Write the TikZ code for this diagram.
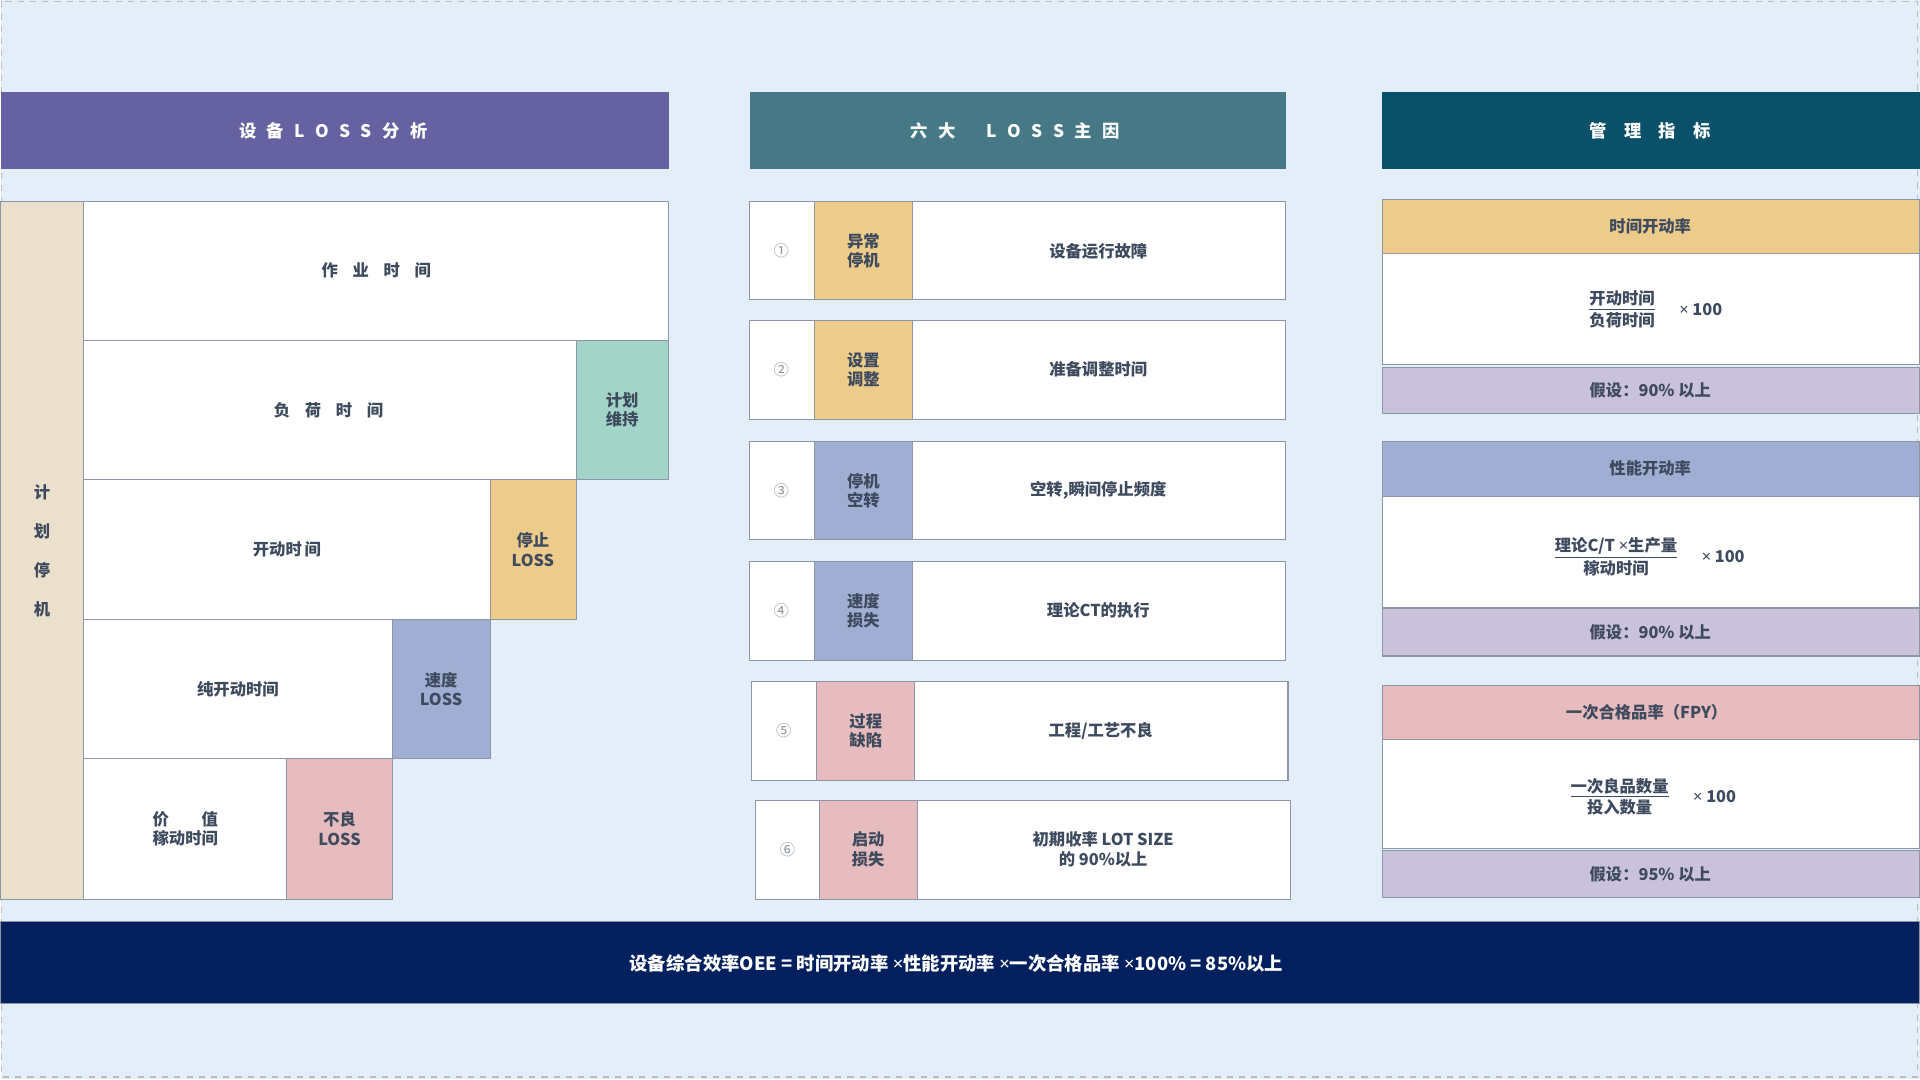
\documentclass[tikz,border=0pt]{standalone}
\usepackage{fontspec}
\setmainfont{Noto Sans CJK SC}
\newfontfamily\latinfont{Noto Sans}
\usetikzlibrary{positioning}

\definecolor{bgblue}{HTML}{E4EEF8}
\definecolor{ink}{HTML}{3E4A5E}
\definecolor{edge}{HTML}{8C96A6}
\definecolor{hpurple}{HTML}{6661A0}
\definecolor{hteal}{HTML}{477885}
\definecolor{hdark}{HTML}{0A5068}
\definecolor{beige}{HTML}{EAE0CB}
\definecolor{mint}{HTML}{A3D4C8}
\definecolor{gold}{HTML}{EDCB8A}
\definecolor{slate}{HTML}{A0AED3}
\definecolor{rose}{HTML}{E6BCBE}
\definecolor{lav}{HTML}{CAC1DA}
\definecolor{navy}{HTML}{02205E}
\definecolor{numgray}{HTML}{8A8F98}

\newcommand\gap{\hspace{0.6em}}
\newcommand\tms{{\latinfont ×}}

\tikzset{
  cell/.style={draw=edge, line width=0.5pt},
  lbl/.style={font=\bfseries\fontsize{8}{9.5}\selectfont, text=ink, align=center},
  head/.style={font=\bfseries\fontsize{8.5}{10}\selectfont, text=white},
  num/.style={font=\fontsize{7.5}{9}\selectfont, text=numgray},
}

\begin{document}
\begin{tikzpicture}[x=0.6pt,y=-0.6pt]
  \fill[bgblue] (0,0) rectangle (1568,882);
  \draw[numgray!60, dashed, line width=0.5pt] (1,1) rectangle (1566,880);

  % headers
  \fill[hpurple] (0,75) rectangle (546,138);
  \fill[hteal] (612,75) rectangle (1050,138);
  \fill[hdark] (1129,75) rectangle (1568,138);
  \node[head] (h1) at (272,107) {设\gap 备\gap L\gap O\gap S\gap S\gap 分\gap 析};
  \node[head] (h2) at (829,107) {六\gap 大\gap\gap\gap L\gap O\gap S\gap S\gap 主\gap 因};
  \node[head] (h3) at (1348,107) {管\hspace{1em}理\hspace{1em}指\hspace{1em}标};

  % left: loss staircase
  \filldraw[cell, fill=beige] (0,165) rectangle (68,735);
  \filldraw[cell, fill=white] (68,165) rectangle (546,278);
  \filldraw[cell, fill=white] (68,278) rectangle (471,392);
  \filldraw[cell, fill=mint] (471,278) rectangle (546,392);
  \filldraw[cell, fill=white] (68,392) rectangle (400,506);
  \filldraw[cell, fill=gold] (400,392) rectangle (471,506);
  \filldraw[cell, fill=white] (68,506) rectangle (320,620);
  \filldraw[cell, fill=slate] (320,506) rectangle (400,620);
  \filldraw[cell, fill=white] (68,620) rectangle (234,735);
  \filldraw[cell, fill=rose] (234,620) rectangle (320,735);
  \node[lbl, font=\bfseries\fontsize{8}{19.2}\selectfont] (plan) at (34,450) {计\\划\\停\\机};
  \node[lbl] (work) at (307,221) {作\hspace{0.9em}业\hspace{0.9em}时\hspace{0.9em}间};
  \node[lbl] (load) at (268,335) {负\hspace{0.9em}荷\hspace{0.9em}时\hspace{0.9em}间};
  \node[lbl] (maint) at (508,335) {计划\\维持};
  \node[lbl] (run) at (234,449) {开动时\,间};
  \node[lbl] (stop) at (435,449) {停止\\LOSS};
  \node[lbl] (net) at (194,563) {纯开动时间};
  \node[lbl] (speed) at (360,563) {速度\\LOSS};
  \node[lbl] (value) at (151,677) {价\hspace{2em}值\\稼动时间};
  \node[lbl] (defect) at (277,677) {不良\\LOSS};

  % middle: six big losses
  \filldraw[cell, fill=white] (612,165) rectangle (1050,245);
  \filldraw[cell, fill=gold] (665,165) rectangle (745,245);
  \node[num] (n1) at (638,205) {①};
  \node[lbl] (c1) at (705,205) {异常\\停机};
  \node[lbl] (d1) at (897,205) {设备运行故障};

  \filldraw[cell, fill=white] (612,262) rectangle (1050,343);
  \filldraw[cell, fill=gold] (665,262) rectangle (745,343);
  \node[num] (n2) at (638,302) {②};
  \node[lbl] (c2) at (705,302) {设置\\调整};
  \node[lbl] (d2) at (897,302) {准备调整时间};

  \filldraw[cell, fill=white] (612,361) rectangle (1050,441);
  \filldraw[cell, fill=slate] (665,361) rectangle (745,441);
  \node[num] (n3) at (638,401) {③};
  \node[lbl] (c3) at (705,401) {停机\\空转};
  \node[lbl] (d3) at (897,401) {空转,瞬间停止频度};

  \filldraw[cell, fill=white] (612,459) rectangle (1050,540);
  \filldraw[cell, fill=slate] (665,459) rectangle (745,540);
  \node[num] (n4) at (638,499) {④};
  \node[lbl] (c4) at (705,499) {速度\\损失};
  \node[lbl] (d4) at (897,499) {理论CT的执行};

  \filldraw[cell, fill=white] (614,557) rectangle (1052,638);
  \filldraw[cell, fill=rose] (667,557) rectangle (747,638);
  \node[num] (n5) at (640,597) {⑤};
  \node[lbl] (c5) at (707,597) {过程\\缺陷};
  \node[lbl] (d5) at (899,597) {工程/工艺不良};

  \filldraw[cell, fill=white] (617,654) rectangle (1054,735);
  \filldraw[cell, fill=rose] (669,654) rectangle (749,735);
  \node[num] (n6) at (643,694) {⑥};
  \node[lbl] (c6) at (709,694) {启动\\损失};
  \node[lbl] (d6) at (901,694) {初期收率 LOT SIZE\\的 90\%以上};

  % right: indicators
  \filldraw[cell, fill=gold] (1129,163) rectangle (1568,207);
  \filldraw[cell, fill=white] (1129,207) rectangle (1568,298);
  \filldraw[cell, fill=lav] (1129,300) rectangle (1568,338);
  \node[lbl] (t1) at (1348,185) {时间开动率};
  \node[lbl] (f1) at (1325,253) {\underline{开动时间}\\负荷时间};
  \node[lbl, right=5pt of f1] (x1) {\tms\ 100};
  \node[lbl] (a1) at (1348,319) {假设：90\% 以上};

  \filldraw[cell, fill=slate] (1129,361) rectangle (1568,406);
  \filldraw[cell, fill=white] (1129,406) rectangle (1568,496);
  \filldraw[cell, fill=lav] (1129,497) rectangle (1568,536);
  \node[lbl] (t2) at (1348,383) {性能开动率};
  \node[lbl] (f2) at (1320,455) {\underline{理论C/T \tms 生产量}\\稼动时间};
  \node[lbl, right=5pt of f2] (x2) {\tms\ 100};
  \node[lbl] (a2) at (1348,517) {假设：90\% 以上};

  \filldraw[cell, fill=rose] (1129,560) rectangle (1568,604);
  \filldraw[cell, fill=white] (1129,604) rectangle (1568,693);
  \filldraw[cell, fill=lav] (1129,695) rectangle (1568,733);
  \node[lbl] (t3) at (1345,582) {一次合格品率（FPY）};
  \node[lbl] (f3) at (1323,651) {\underline{一次良品数量}\\投入数量};
  \node[lbl, right=5pt of f3] (x3) {\tms\ 100};
  \node[lbl] (a3) at (1348,714) {假设：95\% 以上};

  % bottom bar
  \filldraw[draw=edge, fill=navy] (0,753) rectangle (1568,820);
  \node[head, font=\bfseries\fontsize{9}{10.5}\selectfont] (oee) at (781,787)
    {设备综合效率OEE = 时间开动率 \tms 性能开动率 \tms 一次合格品率 \tms 100\% = 85\%以上};
\end{tikzpicture}
\end{document}
